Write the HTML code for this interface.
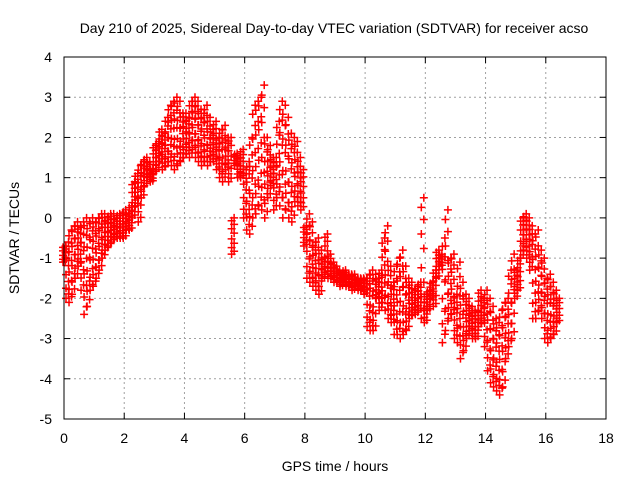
<!DOCTYPE html>
<html><head><meta charset="utf-8"><style>
body{margin:0;background:#fff}
svg{display:block;font-family:"Liberation Sans",sans-serif}
</style></head><body>
<svg id="chart" width="640" height="480" viewBox="0 0 640 480">
<rect width="640" height="480" fill="#fff"/>
<text x="334" y="33" font-size="14" text-anchor="middle">Day 210 of 2025, Sidereal Day-to-day VTEC variation (SDTVAR) for receiver acso</text>
<text transform="translate(19,238) rotate(-90)" font-size="14" text-anchor="middle">SDTVAR / TECUs</text>
<text x="335" y="471" font-size="14" text-anchor="middle">GPS time / hours</text>
<g id="grid"></g><g id="ticks"></g><g id="series"></g>
<rect x="64" y="57" width="542" height="362" fill="none" stroke="#000" stroke-width="1"/>
</svg>
<script>
const xTicks=[0,2,4,6,8,10,12,14,16,18];
const yTicks=[-5,-4,-3,-2,-1,0,1,2,3,4];
const t0=0, tStep=0.1;
const lo=[-1.1,-2.0,-2.1,-1.9,-1.5,-1.2,-1.8,-2.4,-2.2,-1.8,
-1.7,-1.5,-1.3,-1.0,-0.8,-0.7,-0.6,-0.5,-0.5,-0.5,
-0.5,-0.3,-0.3,0.0,0.3,-0.1,0.5,0.8,1.0,0.9,
1.1,1.2,1.4,1.2,1.3,1.4,1.3,1.2,1.3,1.4,
1.5,1.6,1.5,1.7,1.5,1.4,1.3,1.4,1.3,1.4,
1.4,1.2,1.0,0.9,1.2,0.9,-0.9,1.3,1.0,1.0,
0.0,-0.3,-0.4,0.0,0.1,0.3,0.2,0.0,0.5,0.8,
0.2,0.5,0.3,0.0,0.2,0.0,-0.1,0.4,0.3,0.2,
-0.7,-1.5,-1.6,-1.7,-1.8,-1.9,-1.5,-1.4,-1.5,-1.5,
-1.6,-1.6,-1.7,-1.6,-1.7,-1.7,-1.8,-1.7,-1.8,-1.8,
-1.9,-2.7,-2.8,-2.8,-2.0,-2.3,-2.1,-2.3,-2.5,-2.6,
-2.9,-2.9,-3.0,-2.9,-2.8,-2.5,-2.4,-2.4,-2.3,-2.5,
-2.6,-2.3,-2.0,-2.2,-1.5,-1.2,-3.1,-2.8,-2.5,-2.4,
-3.0,-3.1,-3.5,-3.3,-3.0,-2.8,-3.0,-3.0,-2.7,-2.6,
-3.2,-3.8,-4.1,-4.2,-4.3,-4.4,-4.2,-3.5,-3.2,-3.0,
-2.0,-1.8,-1.0,-0.8,-1.0,-1.3,-2.5,-2.5,-2.3,-2.5,
-3.0,-3.1,-3.0,-2.9,-2.6];
const hi=[-0.7,-0.6,-0.3,-0.2,-0.1,-0.2,-0.1,0.0,-0.1,0.0,
-0.1,0.0,0.1,0.1,0.0,0.1,0.1,0.0,0.1,0.1,
0.2,0.1,0.3,0.9,1.1,1.3,1.4,1.5,1.4,1.2,
1.8,1.9,2.2,2.1,2.5,2.8,2.9,3.0,2.9,2.6,
2.6,2.5,2.9,3.0,2.9,2.7,2.6,2.8,2.5,2.2,
2.4,2.0,2.2,2.3,2.0,2.0,0.0,1.6,1.5,1.7,
1.2,1.4,2.0,2.8,2.9,3.0,3.3,2.0,1.8,1.5,
1.5,2.4,2.9,2.8,2.5,2.1,2.0,1.9,1.5,1.2,
-0.2,0.1,-0.1,-0.6,-0.5,-0.8,-1.0,-0.4,-0.9,-1.1,
-1.2,-1.3,-1.4,-1.3,-1.4,-1.4,-1.4,-1.5,-1.5,-1.5,
-1.5,-1.4,-1.3,-1.4,-1.5,-1.3,-0.5,-0.2,-1.2,-1.6,
-1.2,-1.0,-0.8,-1.2,-1.5,-1.6,-1.8,-1.7,-1.6,0.5,
-1.9,-1.8,-1.6,-1.3,-0.8,-0.9,-0.5,0.2,-1.0,-0.9,
-1.9,-1.1,-1.6,-1.9,-2.0,-2.2,-2.3,-2.3,-1.8,-2.0,
-1.8,-2.0,-2.2,-2.5,-2.6,-2.3,-2.1,-2.0,-1.3,-0.9,
-1.3,-1.0,0.0,0.1,0.0,-0.2,-0.4,-0.3,-0.8,-1.0,
-1.5,-1.4,-1.6,-1.8,-2.0];

const L=64,R=606,T=57,B=419;
const xS=v=>L+(v-0)/(18-0)*(R-L);
const yS=v=>B-(v+5)/9*(B-T);
const NS="http://www.w3.org/2000/svg";
function mk(tag,attrs,parent){const e=document.createElementNS(NS,tag);for(const k in attrs)e.setAttribute(k,attrs[k]);parent.appendChild(e);return e;}
const grid=document.getElementById('grid'),ticks=document.getElementById('ticks'),ser=document.getElementById('series');
xTicks.forEach(v=>{
  const x=xS(v);
  if(v>0&&v<18){const g=mk('line',{x1:x,x2:x,y1:T,y2:B,stroke:'#a0a0a0','stroke-dasharray':'2,3'},grid);
  
  }
  mk('line',{x1:x,x2:x,y1:B,y2:B-6,stroke:'#000'},ticks);
  mk('line',{x1:x,x2:x,y1:T,y2:T+6,stroke:'#000'},ticks);
  const t=mk('text',{x:x,y:B+24,'font-size':14,'text-anchor':'middle'},ticks);t.textContent=v;
  
  
});
yTicks.forEach(v=>{
  const y=yS(v);
  if(v>-5&&v<4){const g=mk('line',{x1:L,x2:R,y1:y,y2:y,stroke:'#a0a0a0','stroke-dasharray':'2,3'},grid);
  
  }
  mk('line',{x1:L,x2:L+6,y1:y,y2:y,stroke:'#000'},ticks);
  mk('line',{x1:R,x2:R-6,y1:y,y2:y,stroke:'#000'},ticks);
  const t=mk('text',{x:L-12,y:y+5,'font-size':14,'text-anchor':'end'},ticks);t.textContent=v;
  
  
});
function plus(x,y){
  const p=mk('path',{d:`M${x-4},${y}h8M${x},${y-4}v8`,stroke:'#f00','stroke-width':1.5,fill:'none'},ser);
  
  
}
const fracs=[0,0.08,0.18,0.3,0.42,0.58,0.7,0.82,0.92,1];
lo.forEach((v,i)=>{
  const x=xS(t0+i*tStep),y1=yS(v),y2=yS(hi[i]);
  fracs.forEach((f,j)=>plus(x+(j%2?1.5:-1),y1+(y2-y1)*f));
});
</script>
</body></html>
